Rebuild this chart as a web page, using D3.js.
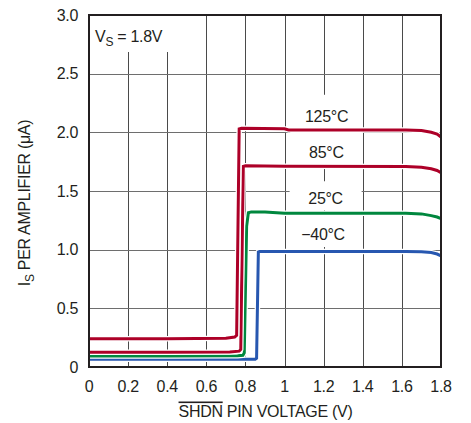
<!DOCTYPE html>
<html><head><meta charset="utf-8">
<script src="https://cdn.jsdelivr.net/npm/d3@7"></script>
<style>
body{margin:0;background:#fff;}
svg{display:block;}
text{font-family:"Liberation Sans",Arial,Helvetica,sans-serif;fill:#231f20;}
</style></head>
<body><svg id="chart" width="471" height="423"></svg>
<script>
// ---- data ----
const xTicks = [0,0.2,0.4,0.6,0.8,1,1.2,1.4,1.6,1.8];
const xTickLabels = ["0","0.2","0.4","0.6","0.8","1","1.2","1.4","1.6","1.8"];
const yTicks = [0,0.5,1,1.5,2,2.5,3];
const yTickLabels = ["0","0.5","1.0","1.5","2.0","2.5","3.0"];

const seriesNames = ["125°C","85°C","25°C","−40°C"];
const x125 = [0, 0.4, 0.70, 0.745, 0.755, 0.768, 0.78, 1.0, 1.02, 1.62, 1.70, 1.75, 1.78, 1.8];
const y125 = [0.24, 0.24, 0.245, 0.255, 0.27, 2.03, 2.035, 2.03, 2.02, 2.02, 2.015, 2.0, 1.985, 1.96];
const x85  = [0, 0.4, 0.72, 0.768, 0.776, 0.789, 0.80, 1.0, 1.62, 1.70, 1.75, 1.78, 1.8];
const y85  = [0.125, 0.125, 0.128, 0.135, 0.15, 1.71, 1.715, 1.71, 1.708, 1.703, 1.69, 1.675, 1.655];
const x25  = [0, 0.4, 0.76, 0.787, 0.794, 0.806, 0.815, 0.83, 0.9, 1.0, 1.62, 1.70, 1.75, 1.78, 1.8];
const y25  = [0.094, 0.094, 0.096, 0.1, 0.12, 1.2, 1.315, 1.322, 1.322, 1.31, 1.31, 1.305, 1.29, 1.278, 1.265];
const xm40 = [0, 0.4, 0.85, 0.857, 0.866, 0.872, 0.9, 1.62, 1.70, 1.75, 1.78, 1.8];
const ym40 = [0.065, 0.065, 0.066, 0.075, 0.98, 0.985, 0.985, 0.985, 0.982, 0.975, 0.963, 0.948];
const seriesColors = ["#ad0028","#ad0028","#00873e","#2757b0"];

// label positions (data coords) for series annotations
const labelX = [1.215, 1.214, 1.210, 1.197];
const labelY = [2.09, 1.779, 1.387, 1.082];

// ---- layout ----
const W = 471, H = 423;
const m = {left:89, right:441, top:15, bottom:367};
const svg = d3.select("#chart");
const x = d3.scaleLinear().domain([0,1.8]).range([m.left, m.right]);
const y = d3.scaleLinear().domain([0,3]).range([m.bottom, m.top]);

// grid
const grid = svg.append("g").attr("stroke","#4a4a4a").attr("stroke-width",1).attr("shape-rendering","crispEdges");
grid.selectAll(".vg").data(xTicks.slice(1,-1)).join("line")
  .attr("x1",d=>Math.round(x(d))+0.5).attr("x2",d=>Math.round(x(d))+0.5)
  .attr("y1",m.top).attr("y2",m.bottom);
grid.selectAll(".hg").data(yTicks.slice(1,-1)).join("line")
  .attr("stroke","#6e6e6e")
  .attr("x1",m.left).attr("x2",m.right)
  .attr("y1",d=>Math.round(y(d))+0.5).attr("y2",d=>Math.round(y(d))+0.5);

// white boxes behind labels
const boxes = svg.append("g").attr("fill","#fff");
boxes.append("rect").attr("x",m.left+1).attr("y",m.top+1).attr("width",90).attr("height",36);
const boxTop = [27, 27, 23, 25], boxBot = [12, 8, 6, 7];
seriesNames.forEach((n,i)=>{
  const cx = x(labelX[i]), by = y(labelY[i]);
  boxes.append("rect").attr("x",cx-36).attr("y",by-boxTop[i]).attr("width",72).attr("height",boxTop[i]+boxBot[i]);
});

// lines
const xs = [x125,x85,x25,xm40], ys=[y125,y85,y25,ym40];
const line = d3.line().x(d=>x(d[0])).y(d=>y(d[1]));
const order = [3,2,1,0];
order.forEach(i=>{
  const pts = xs[i].map((v,j)=>[v,ys[i][j]]);
  svg.append("path").attr("d",line(pts)).attr("fill","none").attr("stroke","#fff").attr("stroke-width",5.5).attr("stroke-linejoin","round");
  svg.append("path").attr("d",line(pts)).attr("fill","none").attr("stroke",seriesColors[i]).attr("stroke-width",3).attr("stroke-linejoin","miter");
});

// frame
svg.append("rect").attr("x",m.left).attr("y",m.top).attr("width",m.right-m.left).attr("height",m.bottom-m.top)
  .attr("fill","none").attr("stroke","#231f20").attr("stroke-width",2);

// series labels
seriesNames.forEach((n,i)=>{
  svg.append("text").attr("x",x(labelX[i])).attr("y",y(labelY[i])).attr("text-anchor","middle")
    .attr("font-size",16).attr("letter-spacing","-0.3").text(n);
});

// tick labels
svg.append("g").selectAll("text").data(xTicks).join("text")
  .attr("x",d=>x(d)).attr("y",391.5).attr("text-anchor","middle").attr("font-size",16).attr("letter-spacing","-0.3")
  .text((d,i)=>xTickLabels[i]);
svg.append("g").selectAll("text").data(yTicks).join("text")
  .attr("x",78).attr("y",d=>y(d)+5.8).attr("text-anchor","end").attr("font-size",16).attr("letter-spacing","-0.3")
  .text((d,i)=>yTickLabels[i]);

// x title with overline on SHDN
const xt = svg.append("text").attr("x",(m.left+m.right)/2+0.5).attr("y",416.5).attr("text-anchor","middle")
  .attr("font-size",16).attr("letter-spacing","-0.3");
xt.append("tspan").attr("text-decoration","overline").text("SHDN");
xt.append("tspan").text(" PIN VOLTAGE (V)");

// y title
const yt = svg.append("text").attr("transform","translate(30,203) rotate(-90)").attr("text-anchor","middle")
  .attr("font-size",16).attr("letter-spacing","-0.3");
yt.append("tspan").text("I");
yt.append("tspan").attr("font-size",12).attr("dy",4).text("S");
yt.append("tspan").attr("dy",-4).text(" PER AMPLIFIER (μA)");

// supply label
const vs = svg.append("text").attr("x",95).attr("y",41.7).attr("font-size",16).attr("letter-spacing","-0.3");
vs.append("tspan").text("V");
vs.append("tspan").attr("font-size",12).attr("dy",4.5).text("S");
vs.append("tspan").attr("dy",-4.5).text(" = 1.8V");
</script></body></html>
